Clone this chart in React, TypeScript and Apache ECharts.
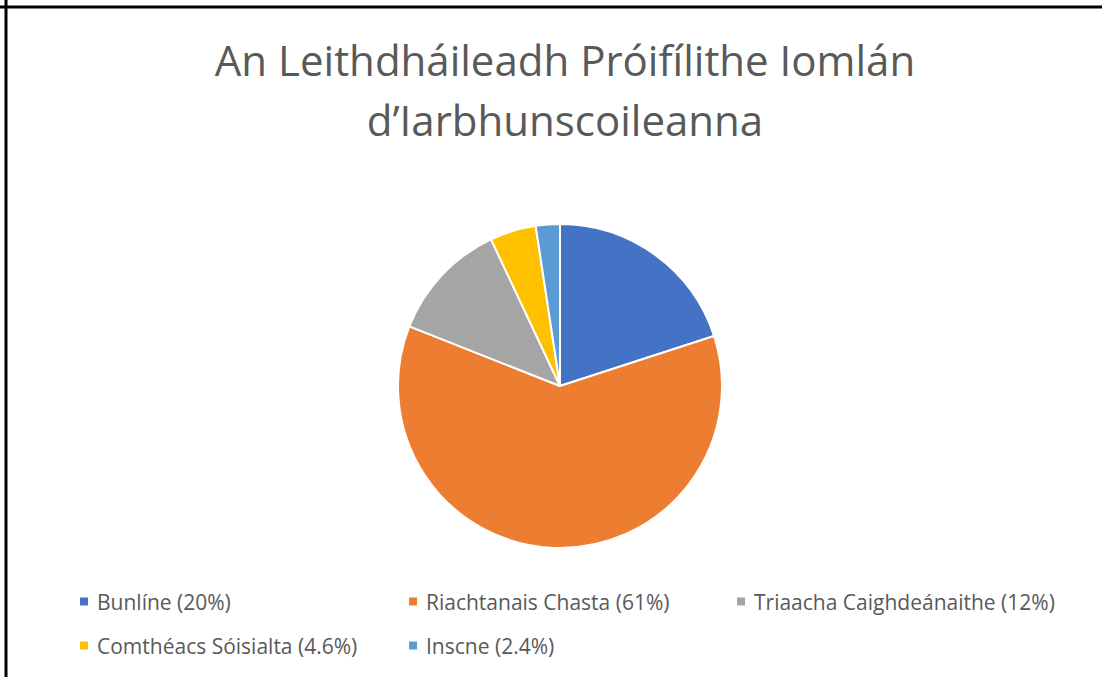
import React, { useEffect, useRef } from "react";
import * as echarts from "echarts";

const categories = ["Bunlíne", "Riachtanais Chasta", "Triaacha Caighdeánaithe", "Comthéacs Sóisialta", "Inscne"];
const values = [20, 61, 12, 4.6, 2.4];
const colors = ["#4472C4", "#ED7D31", "#A5A5A5", "#FFC000", "#5B9BD5"];
const titleLines = ["An Leithdháileadh Próifílithe Iomlán", "d’Iarbhunscoileanna"];

const legendPos = [
  { left: 78, top: 591 },
  { left: 407, top: 591 },
  { left: 735, top: 591 },
  { left: 78, top: 635 },
  { left: 407, top: 635 },
];

export default function App() {
  const ref = useRef<HTMLDivElement>(null);
  useEffect(() => {
    if (!ref.current) return;
    const chart = echarts.init(ref.current, null, { renderer: "svg" });
    const font = "'Open Sans', 'Noto Sans', sans-serif";
    const valMap: Record<string, number> = {};
    categories.forEach((c, i) => (valMap[c] = values[i]));
    chart.setOption({
      animation: false,
      backgroundColor: "#ffffff",
      color: colors,
      title: {
        text: titleLines.join("\n"),
        left: 560,
        textAlign: "center",
        top: 24,
        textStyle: {
          fontFamily: font,
          fontSize: 42,
          fontWeight: "normal",
          color: "#595959",
          lineHeight: 60,
        },
      },
      legend: categories.map((c, i) => ({
        data: [c],
        left: legendPos[i].left,
        top: legendPos[i].top,
        padding: 0,
        itemWidth: 10,
        itemHeight: 10,
        icon: "rect",
        itemGap: 8,
        formatter: (name: string) => `${name} (${valMap[name]}%)`,
        textStyle: { fontFamily: font, fontSize: 21, color: "#595959", padding: [0, 0, 0, 3] },
      })),
      graphic: [
        { type: "line", shape: { x1: 6, y1: 0, x2: 6, y2: 677 }, style: { stroke: "#000", lineWidth: 3 } },
        { type: "line", shape: { x1: 0, y1: 7, x2: 1102, y2: 7 }, style: { stroke: "#000", lineWidth: 3 } },
      ],
      series: [
        {
          type: "pie",
          center: [560, 386],
          radius: [0, 162],
          startAngle: 90,
          clockwise: true,
          label: { show: false },
          labelLine: { show: false },
          emphasis: { disabled: true },
          itemStyle: { borderColor: "#ffffff", borderWidth: 2 },
          data: categories.map((c, i) => ({ name: c, value: values[i] })),
        },
      ],
    });
    return () => chart.dispose();
  }, []);
  return (
    <div
      ref={ref}
      style={{ position: "fixed", left: 0, top: 0, width: 1102, height: 677 }}
    />
  );
}
